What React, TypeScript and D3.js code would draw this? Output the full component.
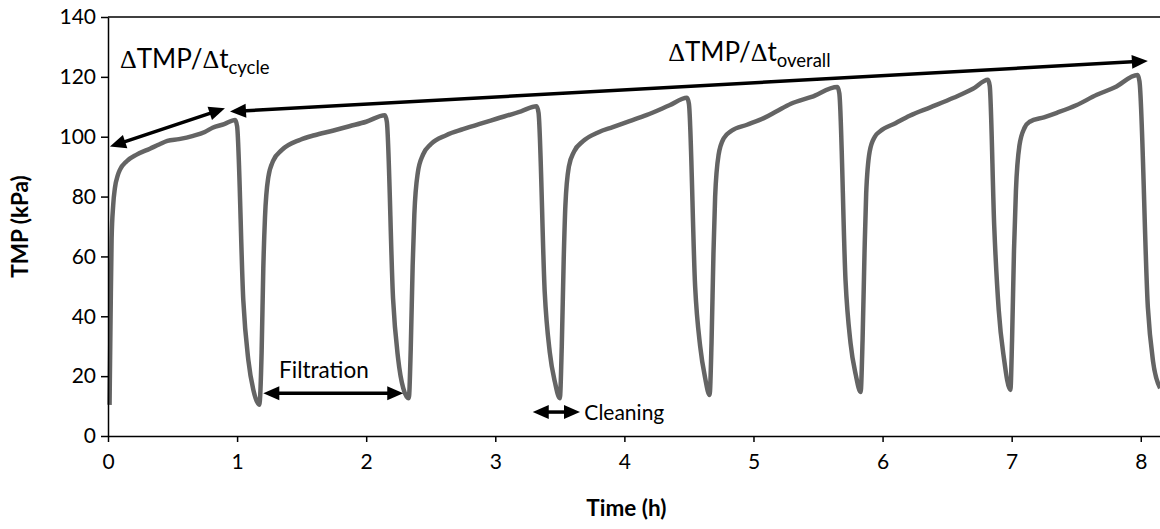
import React, { useEffect, useRef } from 'react'
import * as d3 from 'd3'

// TMP trace, hour by hour
const timeH = [
  0.012, 0.02, 0.028, 0.04, 0.054, 0.075, 0.093, 0.145, 0.222, 0.325, 0.4, 0.46, 0.55, 0.66, 0.75, 0.81, 0.9, 0.985,
  1.0, 1.048, 1.087, 1.126, 1.172,
  1.19, 1.203, 1.216, 1.242, 1.28, 1.345, 1.49, 1.6, 1.74, 1.87, 2.0, 2.145,
  2.16, 2.208, 2.247, 2.287, 2.33,
  2.345, 2.36, 2.373, 2.4, 2.44, 2.5, 2.62, 2.75, 2.88, 3.01, 3.2, 3.32,
  3.335, 3.383, 3.422, 3.462, 3.5,
  3.515, 3.53, 3.543, 3.57, 3.61, 3.68, 3.8, 3.91, 4.04, 4.17, 4.35, 4.485,
  4.5, 4.548, 4.587, 4.625, 4.66,
  4.675, 4.69, 4.703, 4.73, 4.77, 4.83, 4.95, 5.08, 5.18, 5.29, 5.45, 5.65,
  5.665, 5.713, 5.752, 5.792, 5.83,
  5.845, 5.86, 5.873, 5.9, 5.94, 5.98, 6.1, 6.21, 6.37, 6.55, 6.7, 6.816,
  6.83, 6.865, 6.9, 6.94, 6.99,
  7.003, 7.018, 7.033, 7.06, 7.1, 7.14, 7.25, 7.35, 7.5, 7.66, 7.8, 7.975,
  7.99, 8.055, 8.095, 8.15,
]
const tmpKPa = [
  10.4, 40, 66, 77, 83, 87, 89, 91.8, 94, 96, 97.5, 98.6, 99.2, 100.3, 101.6, 103, 104.2, 105.6,
  103.5, 45.4, 25.4, 15.4, 10.4,
  28, 56, 73, 86.5, 92, 95.5, 99, 100.5, 102, 103.5, 105, 107.2,
  105, 46, 26, 16, 12.6,
  29, 57, 74, 88, 94, 97.5, 100.5, 102.5, 104.3, 106, 108.5, 110.2,
  108, 48, 28, 18, 12.6,
  30, 59, 77, 90, 95, 98.5, 101.5, 103.2, 105.2, 107.2, 110.5, 113,
  111, 50, 30, 19.5, 13.7,
  31, 61, 80, 94, 99.5, 102, 104, 106.2, 108.5, 111, 113.3, 116.6,
  114.5, 52, 31, 20.5, 14.7,
  32, 61, 81, 95, 100, 101.8, 104.5, 107, 109.8, 113, 116, 119,
  117, 70, 42, 26, 15.4,
  32, 62, 82, 97, 103, 105, 106.5, 108, 110.5, 114, 116.5, 120.6,
  118.5, 43, 25, 16,
]

const xTicks = [0, 1, 2, 3, 4, 5, 6, 7, 8]
const yTicks = [0, 20, 40, 60, 80, 100, 120, 140]

// annotation arrows, in data units [t0, p0, t1, p1]
const cycleArrow = [0.015, 96.7, 0.906, 109.5]
const overallArrow = [0.945, 108.4, 8.055, 125.3]
const filtrationArrow = [1.203, 14.3, 2.287, 14.3]
const cleaningArrow = [3.29, 8.0, 3.656, 8.0]

const W = 1160
const H = 529
const FONT = 'Lato, "Open Sans", sans-serif'

export default function App() {
  const svgRef = useRef<SVGSVGElement>(null)

  useEffect(() => {
    const svg = d3.select(svgRef.current)
    svg.selectAll('*').remove()

    const x = d3.scaleLinear().domain([0, 8.149]).range([108, 1160])
    const y = d3.scaleLinear().domain([0, 140]).range([436, 17])

    // top frame line
    svg.append('line')
      .attr('x1', x(0)).attr('x2', x(8.149))
      .attr('y1', y(140)).attr('y2', y(140))
      .attr('stroke', '#000').attr('stroke-width', 1.5)

    const line = d3.line<number>()
      .x((d, i) => x(timeH[i]))
      .y(d => y(d))
      .curve(d3.curveMonotoneX)

    svg.append('path')
      .datum(tmpKPa)
      .attr('d', line)
      .attr('fill', 'none')
      .attr('stroke', '#646464')
      .attr('stroke-width', 4.5)
      .attr('stroke-linejoin', 'round')

    const yAxis = svg.append('g')
      .attr('transform', `translate(${x(0)},0)`)
      .call(d3.axisLeft(y).tickValues(yTicks).tickSize(7).tickSizeOuter(0).tickPadding(5))
    const xAxis = svg.append('g')
      .attr('transform', `translate(0,${y(0)})`)
      .call(d3.axisBottom(x).tickValues(xTicks).tickSize(6).tickSizeOuter(0).tickPadding(12))

    for (const g of [xAxis, yAxis]) {
      g.select('.domain').attr('stroke', '#000').attr('stroke-width', 1.5)
      g.selectAll('line').attr('stroke', '#000').attr('stroke-width', 1.5)
      g.selectAll('text')
        .attr('font-family', FONT)
        .attr('font-size', 21)
        .attr('fill', '#000')
    }

    // axis titles
    svg.append('text')
      .attr('x', x(4) + 2).attr('y', 516)
      .attr('text-anchor', 'middle')
      .attr('font-family', FONT).attr('font-size', 22.5).attr('font-weight', 'bold')
      .text('Time (h)')
    svg.append('text')
      .attr('transform', `translate(28,${(y(0) + y(140)) / 2}) rotate(-90)`)
      .attr('text-anchor', 'middle')
      .attr('font-family', FONT).attr('font-size', 22.5).attr('font-weight', 'bold')
      .text('TMP (kPa)')

    // arrows
    const drawArrow = (a: number[]) => {
      const p0 = [x(a[0]), y(a[1])]
      const p1 = [x(a[2]), y(a[3])]
      const len = Math.hypot(p1[0] - p0[0], p1[1] - p0[1])
      const u = [(p1[0] - p0[0]) / len, (p1[1] - p0[1]) / len]
      const n = [-u[1], u[0]]
      const L = 16, Wd = 14
      const head = (tip: number[], s: number) => [
        tip,
        [tip[0] - s * L * u[0] + (Wd / 2) * n[0], tip[1] - s * L * u[1] + (Wd / 2) * n[1]],
        [tip[0] - s * L * u[0] - (Wd / 2) * n[0], tip[1] - s * L * u[1] - (Wd / 2) * n[1]],
      ]
      svg.append('line')
        .attr('x1', p0[0] + L * 0.7 * u[0]).attr('y1', p0[1] + L * 0.7 * u[1])
        .attr('x2', p1[0] - L * 0.7 * u[0]).attr('y2', p1[1] - L * 0.7 * u[1])
        .attr('stroke', '#000').attr('stroke-width', 3.5)
      svg.append('polygon').attr('points', head(p1, 1).map(p => p.join(',')).join(' ')).attr('fill', '#000')
      svg.append('polygon').attr('points', head(p0, -1).map(p => p.join(',')).join(' ')).attr('fill', '#000')
    }
    drawArrow(cycleArrow)
    drawArrow(overallArrow)
    drawArrow(filtrationArrow)
    drawArrow(cleaningArrow)

    // annotation labels
    const label = (t: number, p: number, main: string[], sub: string) => {
      const txt = svg.append('text')
        .attr('x', x(t)).attr('y', y(p))
        .attr('font-family', FONT).attr('font-size', 26).attr('fill', '#000')
      for (const m of main) {
        if (m === 'Δ') txt.append('tspan').attr('font-family', '"Liberation Serif", serif').text('Δ')
        else txt.append('tspan').text(m)
      }
      txt.append('tspan').attr('font-size', 18.5).attr('dy', 6).text(sub)
    }
    label(0.093, 123.0, ['Δ', 'TMP/', 'Δ', 't'], 'cycle')
    label(4.34, 125.3, ['Δ', 'TMP/', 'Δ', 't'], 'overall')

    svg.append('text')
      .attr('x', x(1.325)).attr('y', y(19.4))
      .attr('font-family', FONT).attr('font-size', 22.5)
      .text('Filtration')
    svg.append('text')
      .attr('x', x(3.69)).attr('y', y(5.4))
      .attr('font-family', FONT).attr('font-size', 21)
      .text('Cleaning')
  }, [])

  return (
    <svg ref={svgRef} width={W} height={H}
      style={{ position: 'absolute', left: 0, top: 0, background: '#fff' }} />
  )
}
